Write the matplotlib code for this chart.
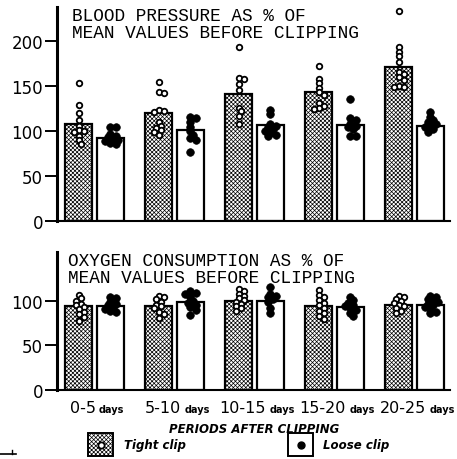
import matplotlib
matplotlib.use("Agg")
import matplotlib.pyplot as plt
from matplotlib.patches import Rectangle
from matplotlib.lines import Line2D
from matplotlib.offsetbox import TextArea, HPacker, AnnotationBbox
import numpy as np

# ---------------- data ----------------
periods = ["0-5", "5-10", "10-15", "15-20", "20-25"]
period_unit = "days"

bp_tight_mean = [108, 120, 141, 143, 171]
bp_loose_mean = [92, 101, 107, 107, 106]
bp_tight_pts = [
    [153, 129, 120, 112, 106, 101, 100, 99, 95, 90, 86],
    [155, 144, 142, 124, 122, 121, 110, 106, 103, 101, 99, 96],
    [194, 159, 158, 152, 146, 126, 122, 117, 108],
    [172, 158, 153, 148, 143, 140, 131, 128, 126, 125],
    [233, 193, 188, 183, 177, 166, 163, 160, 157, 150, 149, 149],
]
bp_loose_pts = [
    [105, 105, 97, 95, 93, 91, 90, 89, 87, 86],
    [116, 115, 110, 105, 100, 96, 92, 90, 77],
    [124, 119, 108, 106, 104, 102, 100, 98, 96, 94],
    [136, 115, 112, 108, 106, 104, 102, 94, 94],
    [121, 116, 112, 110, 108, 106, 104, 102, 99],
]

o2_tight_mean = [94, 94, 100, 94, 96]
o2_loose_mean = [94, 99, 100, 93, 95]
o2_tight_pts = [
    [107, 103, 100, 97, 95, 93, 91, 88, 85, 82, 78],
    [106, 104, 102, 99, 96, 94, 92, 88, 85, 81],
    [114, 111, 108, 106, 103, 101, 99, 97, 94, 92, 89],
    [112, 107, 104, 101, 98, 95, 92, 89, 86, 83, 80],
    [106, 104, 102, 100, 98, 96, 94, 92, 89, 86],
]
o2_loose_pts = [
    [104, 103, 99, 97, 95, 93, 91, 89, 88],
    [111, 109, 108, 104, 100, 98, 96, 93, 90, 84],
    [116, 108, 106, 104, 102, 99, 92, 86],
    [105, 101, 98, 96, 94, 92, 90, 87, 83],
    [106, 104, 102, 100, 99, 97, 95, 93, 91, 88, 86],
]

top_yticks = [0, 50, 100, 150, 200]
bot_yticks = [0, 50, 100]
top_title = "BLOOD PRESSURE AS % OF\nMEAN VALUES BEFORE CLIPPING"
bot_title = "OXYGEN CONSUMPTION AS % OF\nMEAN VALUES BEFORE CLIPPING"
xlabel = "PERIODS AFTER CLIPPING"
legend_labels = ["Tight clip", "Loose clip"]

# ---------------- style ----------------
plt.rcParams["hatch.linewidth"] = 0.5
HATCH = "xxxxxxxx"
W, H = 457, 460
fig = plt.figure(figsize=(W / 100, H / 100), dpi=100)
fig.patch.set_facecolor("white")

XLIM = (-0.47, 4.44)
x = np.arange(len(periods))
OFF_T, OFF_L, BW = -0.2, 0.195, 0.34
ax_w_px = 393


def swarm(vals, center, xpx, ypx, diam):
    placed = []
    step = diam * 0.45 / xpx
    for v in vals:
        chosen = 0.0
        for k in [0, 1, -1, 2, -2, 3, -3]:
            xx = k * step
            if all(((xx - px) * xpx) ** 2 + ((v - pv) * ypx) ** 2 >= (diam * 0.72) ** 2
                   for px, pv in placed):
                chosen = xx
                break
        placed.append((chosen, v))
    return [center + p[0] for p in placed], [p[1] for p in placed]


def panel(ax, tmean, lmean, tpts, lpts, ylim, yticks, title, title_x, ypx):
    ax.set_xlim(*XLIM)
    ax.set_ylim(*ylim)
    ax.bar(x + OFF_T, tmean, BW, facecolor="white", edgecolor="black",
           hatch=HATCH, linewidth=1.6, zorder=2)
    ax.bar(x + OFF_L, lmean, BW, facecolor="white", edgecolor="black",
           linewidth=1.6, zorder=2)
    xpx = ax_w_px / (XLIM[1] - XLIM[0])
    for i in range(len(periods)):
        xs, ys = swarm(tpts[i], x[i] + OFF_T, xpx, ypx, 5.5)
        ax.scatter(xs, ys, s=16, facecolor="white", edgecolor="black",
                   linewidth=1.3, zorder=4, clip_on=False)
        xs, ys = swarm(lpts[i], x[i] + OFF_L, xpx, ypx, 6.0)
        ax.scatter(xs, ys, s=30, facecolor="black", edgecolor="black",
                   linewidth=0.5, zorder=4, clip_on=False)
    for s in ["top", "right"]:
        ax.spines[s].set_visible(False)
    ax.spines["left"].set_linewidth(2.2)
    ax.spines["bottom"].set_linewidth(1.5)
    ax.set_xticks([])
    ax.set_yticks(yticks)
    ax.set_yticklabels([str(t) for t in yticks], fontsize=12,
                       family="DejaVu Sans")
    ax.tick_params(axis="y", direction="out", length=9, width=1.4, pad=1)
    ax.text(title_x, 1.0, title, transform=ax.transAxes, ha="left", va="top",
            family="Liberation Mono", fontsize=12.8, linespacing=1.0)


ax1 = fig.add_axes([57 / W, 238 / H, ax_w_px / W, 214 / H])
panel(ax1, bp_tight_mean, bp_loose_mean, bp_tight_pts, bp_loose_pts,
      (0, 238), top_yticks, top_title, 15 / ax_w_px, 0.9)

ax2 = fig.add_axes([57 / W, 69 / H, ax_w_px / W, 138 / H])
panel(ax2, o2_tight_mean, o2_loose_mean, o2_tight_pts, o2_loose_pts,
      (0, 155), bot_yticks, bot_title, 11 / ax_w_px, 0.89)

# x tick labels with small "days"
for i, p in enumerate(periods):
    t1 = TextArea(p, textprops=dict(fontsize=11.5, family="DejaVu Sans"))
    t2 = TextArea(period_unit, textprops=dict(fontsize=7, family="DejaVu Sans",
                                              weight="bold"))
    box = HPacker(children=[t1, t2], align="baseline", pad=0, sep=2.5)
    ab = AnnotationBbox(box, (x[i] + 0.03, -0.07), xycoords=("data", "axes fraction"),
                        box_alignment=(0.5, 1.0), frameon=False, pad=0)
    ax2.add_artist(ab)

fig.text(254 / W, 1 - 430 / H, xlabel, ha="center", va="center",
         fontsize=8.5, style="italic", weight="bold", family="DejaVu Sans")

# legend
def legbox(x0, hatched, marker):
    r = Rectangle((x0 / W, 3 / H), 25 / W, 23 / H, transform=fig.transFigure,
                  facecolor="white", edgecolor="black", linewidth=1.4,
                  hatch=HATCH if hatched else None)
    fig.add_artist(r)
    cx, cy = (x0 + 12.5) / W, 14.5 / H
    if marker == "open":
        fig.add_artist(Line2D([cx], [cy], marker="o", markersize=4.5,
                              markerfacecolor="white", markeredgecolor="black",
                              markeredgewidth=1.3, transform=fig.transFigure))
    else:
        fig.add_artist(Line2D([cx], [cy], marker="o", markersize=5,
                              markerfacecolor="black", markeredgecolor="black",
                              transform=fig.transFigure))

legbox(88, True, "open")
legbox(288, False, "dot")
fig.text(124 / W, 14 / H, legend_labels[0], ha="left", va="center",
         fontsize=8.5, style="italic", weight="bold", family="DejaVu Sans")
fig.text(323 / W, 14 / H, legend_labels[1], ha="left", va="center",
         fontsize=8.5, style="italic", weight="bold", family="DejaVu Sans")

# small mark at bottom-left
fig.add_artist(Line2D([0, 16 / W], [5 / H, 5 / H], color="black", linewidth=1.2,
                      transform=fig.transFigure))
fig.add_artist(Line2D([12 / W, 12 / W], [5 / H, 9 / H], color="black", linewidth=1.0,
                      transform=fig.transFigure))

fig.savefig("out.png", dpi=100, facecolor="white")
